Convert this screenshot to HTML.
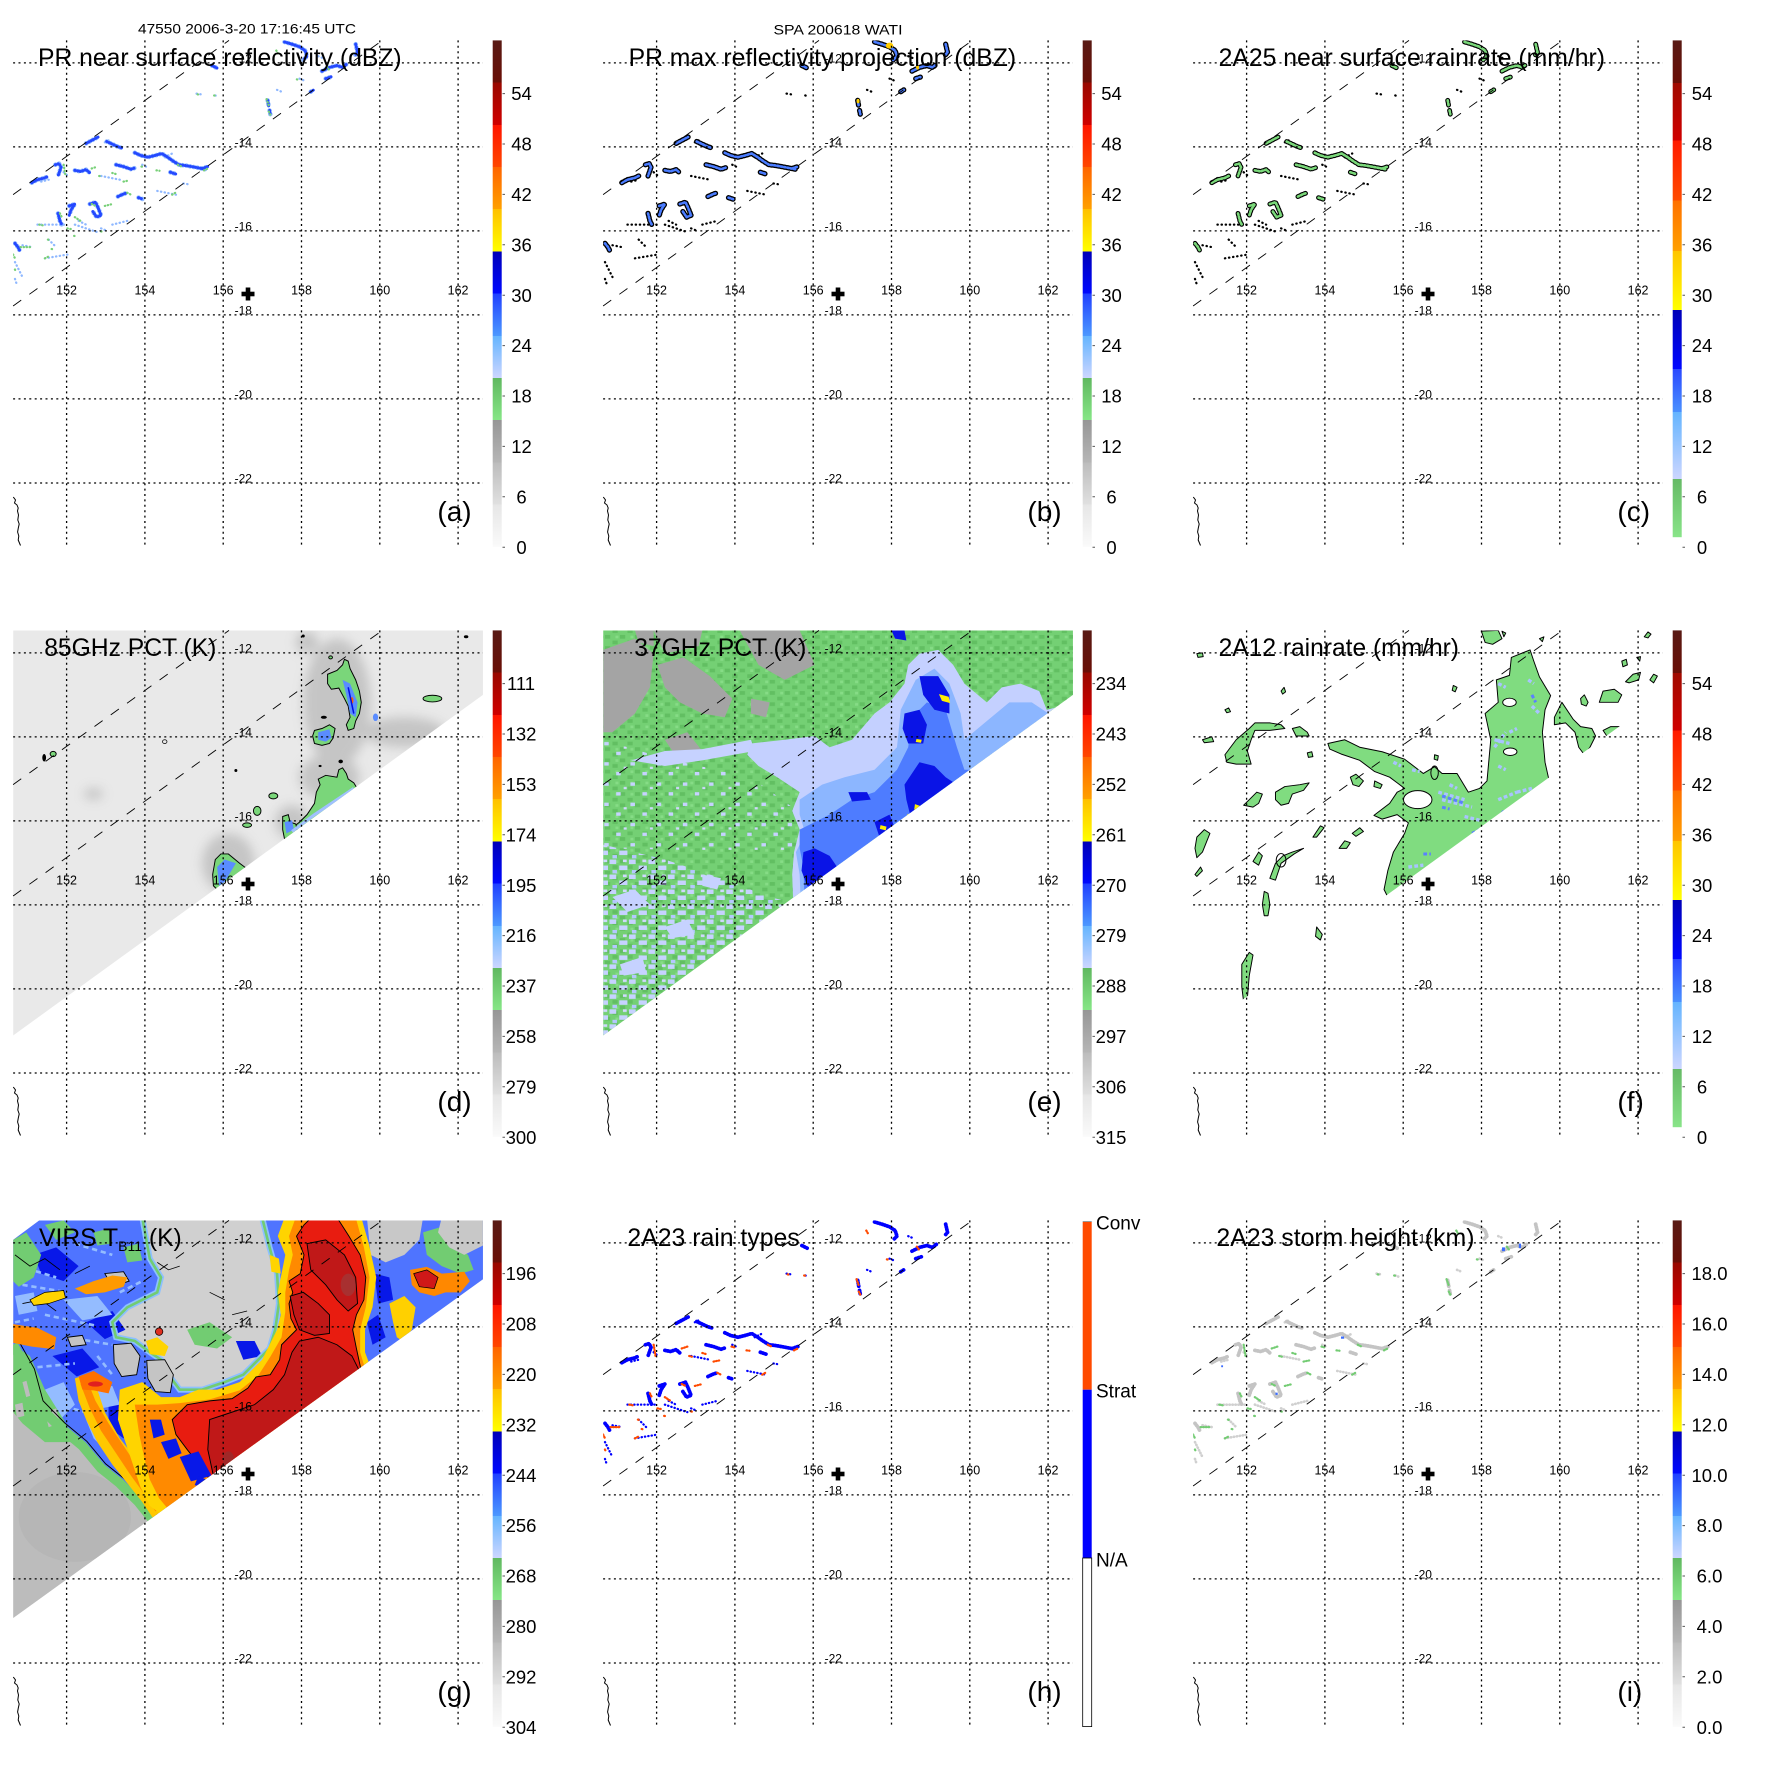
<!DOCTYPE html>
<html><head><meta charset="utf-8"><style>html,body{margin:0;padding:0;background:#fff}svg{display:block}text{font-family:"Liberation Sans",Arial,sans-serif;fill:#000}</style></head><body>
<svg width="1771" height="1771" viewBox="0 0 1771 1771" xmlns="http://www.w3.org/2000/svg" xmlns:xlink="http://www.w3.org/1999/xlink">
<rect width="1771" height="1771" fill="#fff"/>
<defs>
<clipPath id="mc"><rect x="13.1" y="40.4" width="469.9" height="505.5"/></clipPath>
<clipPath id="tmiClip"><polygon points="35,108 1290,108 1290,280 35,1190"/></clipPath>
<clipPath id="virsClip"><polygon points="35,160 105,108 1290,108 1290,265 35,1170"/></clipPath>
<filter id="bl" x="-50%" y="-50%" width="200%" height="200%"><feGaussianBlur stdDeviation="14"/></filter>
<pattern id="mot" width="40" height="30" patternUnits="userSpaceOnUse"><rect x="0" y="0" width="14" height="10" fill="#62bf62"/><rect x="20" y="15" width="14" height="10" fill="#62bf62"/><rect x="28" y="2" width="8" height="7" fill="#86dc86"/></pattern>
<pattern id="lav" width="52" height="40" patternUnits="userSpaceOnUse"><rect x="0" y="0" width="18" height="12" fill="#c6d2ff"/><rect x="26" y="16" width="22" height="12" fill="#c6d2ff"/><rect x="8" y="28" width="12" height="9" fill="#b4c8ff"/><rect x="36" y="0" width="10" height="7" fill="#d0d8ff"/></pattern>
<pattern id="lav2" width="70" height="54" patternUnits="userSpaceOnUse"><rect x="0" y="0" width="12" height="9" fill="#c6d2ff"/><rect x="38" y="28" width="12" height="9" fill="#c6d2ff"/><rect x="20" y="40" width="8" height="6" fill="#d0d8ff"/></pattern>
<linearGradient id="gStd" x1="0" y1="40.4" x2="0" y2="546.8" gradientUnits="userSpaceOnUse">
<stop offset="0" stop-color="#581a14"/><stop offset=".0833" stop-color="#6a0e06"/>
<stop offset=".0833" stop-color="#980800"/><stop offset=".1667" stop-color="#d00000"/>
<stop offset=".1667" stop-color="#ff1400"/><stop offset=".25" stop-color="#ff4600"/>
<stop offset=".25" stop-color="#ff6400"/><stop offset=".3333" stop-color="#ffa000"/>
<stop offset=".3333" stop-color="#ffc000"/><stop offset=".4167" stop-color="#ffff00"/>
<stop offset=".4167" stop-color="#0000b8"/><stop offset=".5" stop-color="#0008ff"/>
<stop offset=".5" stop-color="#2040ff"/><stop offset=".5833" stop-color="#4c98ff"/>
<stop offset=".5833" stop-color="#64b4ff"/><stop offset=".6667" stop-color="#ccd6ff"/>
<stop offset=".6667" stop-color="#60b860"/><stop offset=".75" stop-color="#86e686"/>
<stop offset=".75" stop-color="#969696"/><stop offset=".8333" stop-color="#b6b6b6"/>
<stop offset=".8333" stop-color="#bcbcbc"/><stop offset=".9167" stop-color="#e0e0e0"/>
<stop offset=".9167" stop-color="#e6e6e6"/><stop offset="1" stop-color="#fafafa"/>
</linearGradient>
<linearGradient id="gRR" x1="0" y1="40.4" x2="0" y2="537.2" gradientUnits="userSpaceOnUse">
<stop offset="0" stop-color="#581a14"/><stop offset=".086" stop-color="#6a0e06"/>
<stop offset=".086" stop-color="#a00a00"/><stop offset=".2013" stop-color="#d00000"/>
<stop offset=".2013" stop-color="#ff1a00"/><stop offset=".3219" stop-color="#ff4a00"/>
<stop offset=".3219" stop-color="#ff7000"/><stop offset=".4235" stop-color="#ffa000"/>
<stop offset=".4235" stop-color="#ffc400"/><stop offset=".5427" stop-color="#ffff00"/>
<stop offset=".5427" stop-color="#0000b8"/><stop offset=".661" stop-color="#0008ff"/>
<stop offset=".661" stop-color="#2a48ff"/><stop offset=".7476" stop-color="#4a90ff"/>
<stop offset=".7476" stop-color="#64b4ff"/><stop offset=".8833" stop-color="#ccd6ff"/>
<stop offset=".8833" stop-color="#66ba66"/><stop offset="1" stop-color="#88e488"/>
</linearGradient>
<g id="ticks"><path d="M502.5,93.6h2.5M502.5,144h2.5M502.5,194.4h2.5M502.5,244.8h2.5M502.5,295.2h2.5M502.5,345.6h2.5M502.5,396h2.5M502.5,446.4h2.5M502.5,496.8h2.5M502.5,547.2h2.5" stroke="#555" stroke-width="1"/></g>
<g id="cbStd"><rect x="492.7" y="40.4" width="9" height="506.4" fill="url(#gStd)"/><use href="#ticks"/></g>
<g id="cbRR"><rect x="492.7" y="40.4" width="9" height="496.8" fill="url(#gRR)"/><use href="#ticks"/></g>
<g id="frm">
<path d="M13.1,62.9H483M13.1,146.9H483M13.1,230.9H483M13.1,314.9H483M13.1,398.9H483M13.1,483H483M66.6,40.4V545.9M144.9,40.4V545.9M223.2,40.4V545.9M301.5,40.4V545.9M379.8,40.4V545.9M458.1,40.4V545.9" stroke="#000" stroke-width="1.3" stroke-dasharray="2 3.4" fill="none"/>
<path d="M13.1,194.6L229,40.4M13.1,306L382.3,40.4" stroke="#000" stroke-width="0.9" stroke-dasharray="10 10" fill="none"/>
<path d="M13.3,497L15.5,500L14.5,503L17,505L18.2,508L17.5,511L18.5,515L17.8,520L19.2,524L18.3,528L17.6,532L18.8,536L18.2,540L20.5,545.5" stroke="#000" stroke-width="1" fill="none"/>
<g font-size="12.5" text-anchor="middle"><text x="66.6" y="294.5">152</text><text x="144.9" y="294.5">154</text><text x="223.2" y="294.5">156</text><text x="301.5" y="294.5">158</text><text x="379.8" y="294.5">160</text><text x="458.1" y="294.5">162</text></g>
<g font-size="12"><text x="234.6" y="62.4">-12</text><text x="234.6" y="146.4">-14</text><text x="234.6" y="230.4">-16</text><text x="234.6" y="314.4">-18</text><text x="234.6" y="398.4">-20</text><text x="234.6" y="482.5">-22</text></g>
<rect x="241.5" y="291.7" width="13" height="4.6" fill="#000"/><rect x="245.7" y="287.5" width="4.6" height="13" fill="#000"/>
</g>
<path id="prCore" d="M230,383L245,375L262,366 M285,378L300,385L315,392L325,395 M360,408L375,415L395,420L415,415L432,410L448,420L462,430L478,440L495,442L512,445L528,448L548,452 M148,440L158,437L163,447L155,470 M200,455L215,458L230,453L240,462 M310,440L330,445L350,452L362,448 M85,488L100,480L120,475L130,470 M185,550L200,545L190,560L185,575 M240,545L255,540L262,555L270,575L258,580L248,565 M155,570L160,590L165,600 M315,525L330,518L340,515 M370,528L382,532 M40,650L48,660L52,668 M760,112L780,118L800,125L815,135L820,150L810,160 M860,190L880,180L900,175L915,180L925,172 M870,210L885,205 M950,118L955,140L948,148 M715,268L718,285 M720,295L722,305 M830,245L838,240 M566,175L580,182 M455,460L470,465 M540,450L555,445"/>
<path id="prSpeck" d="M100,600L180,600 M120,690L180,680 M40,700L60,740 M200,600L260,620 M270,470L320,480 M300,600L340,590 M420,510L470,520 M130,640L150,660 M800,210L812,215 M740,240L752,245 M850,150L862,155 M525,250L537,252 M575,255L583,258 M490,490L502,492 M170,460L182,470 M210,590L230,600 M270,610L282,615 M40,745L45,760 M60,655L85,660 M110,485L130,480 M280,380L290,375 M440,420L460,410 M380,440L390,445"/>
<path id="prOr" d="M170,440L175,470 M245,450L260,445 M265,470L272,472 M300,462L310,465 M330,485L345,482 M378,445L385,447 M418,455L426,456 M475,440L485,445 M545,455L555,450 M460,520L468,515 M340,515L350,520 M280,550L300,545 M245,545L255,550 M200,580L215,590 M160,570L165,580 M120,690L130,685 M138,665L144,667 M105,600L115,602 M128,640L134,642 M180,610L190,612 M55,660L80,660 M35,680L40,690 M712,265L718,282 M718,298L722,306 M873,178L880,188 M793,212L799,213 M738,135L742,142 M572,255L578,256 M528,252L533,253 M270,618L276,620 M198,630L203,631 M40,720L42,724"/>
</defs>

<!-- (a) -->
<g transform="translate(0,0)">
<g clip-path="url(#mc)"><g transform="scale(0.37439)">
<use href="#prSpeck" fill="none" stroke="#8fb8ff" stroke-width="6" stroke-dasharray="1 9" stroke-linecap="round"/>
<use href="#prCore" fill="none" stroke="#8fb8ff" stroke-width="12" stroke-dasharray="1 9" stroke-linecap="round" stroke-linejoin="round"/>
<use href="#prCore" fill="none" stroke="#2448ff" stroke-width="8" stroke-dasharray="1 6" stroke-linecap="round" stroke-linejoin="round"/>
<use href="#prOr" fill="none" stroke="#78d078" stroke-width="6" stroke-dasharray="1 7" stroke-linecap="round"/>
</g></g>
<use href="#frm"/>
<text x="247" y="33.5" font-size="14" text-anchor="middle" textLength="218" lengthAdjust="spacingAndGlyphs">47550 2006-3-20 17:16:45 UTC</text>
<text x="38" y="66" font-size="24.7" textLength="363.6" lengthAdjust="spacingAndGlyphs">PR near surface reflectivity (dBZ)</text>
<text x="437.4" y="521" font-size="28">(a)</text>
<use href="#cbStd"/>
<g font-size="18.5" text-anchor="middle"><text x="521.5" y="100.2">54</text><text x="521.5" y="150.6">48</text><text x="521.5" y="201">42</text><text x="521.5" y="251.4">36</text><text x="521.5" y="301.8">30</text><text x="521.5" y="352.2">24</text><text x="521.5" y="402.6">18</text><text x="521.5" y="453">12</text><text x="521.5" y="503.4">6</text><text x="521.5" y="553.8">0</text></g>
</g>

<!-- (b) -->
<g transform="translate(590,0)">
<g clip-path="url(#mc)"><g transform="scale(0.37439)">
<use href="#prSpeck" fill="none" stroke="#000" stroke-width="6" stroke-dasharray="1 10" stroke-linecap="round"/>
<use href="#prCore" fill="none" stroke="#000" stroke-width="14" stroke-dasharray="4 5" stroke-linecap="round" stroke-linejoin="round"/>
<use href="#prCore" fill="none" stroke="#4a7cff" stroke-width="7" stroke-dasharray="4 5" stroke-linecap="round" stroke-linejoin="round"/>
<ellipse cx="800" cy="122" rx="10" ry="8" fill="#ffcc00"/><ellipse cx="875" cy="180" rx="4" ry="6" fill="#ffcc00"/><ellipse cx="716" cy="270" rx="4" ry="6" fill="#ffd000"/>
</g></g>
<use href="#frm"/>
<text x="248" y="34.4" font-size="14" text-anchor="middle" textLength="129" lengthAdjust="spacingAndGlyphs">SPA 200618 WATI</text>
<text x="38.6" y="66" font-size="24.7" textLength="387.5" lengthAdjust="spacingAndGlyphs">PR max reflectivity projection (dBZ)</text>
<text x="437.4" y="521" font-size="28">(b)</text>
<use href="#cbStd"/>
<g font-size="18.5" text-anchor="middle"><text x="521.5" y="100.2">54</text><text x="521.5" y="150.6">48</text><text x="521.5" y="201">42</text><text x="521.5" y="251.4">36</text><text x="521.5" y="301.8">30</text><text x="521.5" y="352.2">24</text><text x="521.5" y="402.6">18</text><text x="521.5" y="453">12</text><text x="521.5" y="503.4">6</text><text x="521.5" y="553.8">0</text></g>
</g>

<!-- (c) -->
<g transform="translate(1180,0)">
<g clip-path="url(#mc)"><g transform="scale(0.37439)">
<use href="#prSpeck" fill="none" stroke="#000" stroke-width="6" stroke-dasharray="1 10" stroke-linecap="round"/>
<use href="#prCore" fill="none" stroke="#000" stroke-width="13" stroke-dasharray="4 5" stroke-linecap="round" stroke-linejoin="round"/>
<use href="#prCore" fill="none" stroke="#7ad87a" stroke-width="7" stroke-dasharray="4 5" stroke-linecap="round" stroke-linejoin="round"/>
</g></g>
<use href="#frm"/>
<text x="38.6" y="66" font-size="24.7" textLength="386.4" lengthAdjust="spacingAndGlyphs">2A25 near surface rainrate (mm/hr)</text>
<text x="437.4" y="521" font-size="28">(c)</text>
<use href="#cbRR"/>
<g font-size="18.5" text-anchor="middle"><text x="522" y="100.2">54</text><text x="522" y="150.6">48</text><text x="522" y="201">42</text><text x="522" y="251.4">36</text><text x="522" y="301.8">30</text><text x="522" y="352.2">24</text><text x="522" y="402.6">18</text><text x="522" y="453">12</text><text x="522" y="503.4">6</text><text x="522" y="553.8">0</text></g>
</g>

<!-- (d) -->
<g transform="translate(0,590)">
<g clip-path="url(#mc)"><g transform="scale(0.37439)"><g clip-path="url(#tmiClip)">
<rect x="0" y="0" width="1400" height="1300" fill="#e9e9e9"/>
<g filter="url(#bl)" fill="#a8a8a8" opacity="0.55">
<ellipse cx="610" cy="730" rx="70" ry="80"/><ellipse cx="900" cy="300" rx="90" ry="170"/><ellipse cx="880" cy="500" rx="80" ry="60"/><ellipse cx="780" cy="620" rx="45" ry="45"/><ellipse cx="820" cy="140" rx="30" ry="30"/><ellipse cx="1080" cy="380" rx="110" ry="40"/><ellipse cx="250" cy="545" rx="25" ry="15"/>
</g>
<g fill="#7ad67a" stroke="#000" stroke-width="2.6">
<polygon points="875,225 900,215 915,200 920,185 930,190 935,210 950,240 960,270 965,300 960,330 950,350 945,370 930,375 925,360 935,340 930,310 920,290 905,262 885,265 875,250"/>
<polygon points="835,390 840,375 860,370 880,360 895,370 890,395 880,410 860,415 840,410"/>
<polygon points="760,650 775,640 800,620 820,600 840,570 845,540 855,520 850,505 870,495 900,500 905,480 915,475 925,490 930,505 945,515 960,540 770,680"/>
<polygon points="755,605 770,600 775,620 790,625 795,645 780,660 760,665 755,640"/>
<polygon points="575,720 590,705 610,705 640,730 660,745 590,810 570,790 568,760"/>
<ellipse cx="1155" cy="290" rx="25" ry="9"/><ellipse cx="730" cy="550" rx="12" ry="8"/><ellipse cx="687" cy="590" rx="10" ry="12"/><ellipse cx="660" cy="628" rx="12" ry="6"/><ellipse cx="142" cy="438" rx="8" ry="7"/><ellipse cx="883" cy="180" rx="5" ry="4"/>
</g>
<g fill="#5a8cff"><polygon points="915,240 935,250 955,300 950,340 935,330 925,280"/><polygon points="850,380 880,372 885,395 870,405 850,400"/><polygon points="580,740 600,720 630,730 600,780 585,790"/><polygon points="760,620 780,615 785,640 765,650"/><ellipse cx="1003" cy="340" rx="7" ry="10"/></g>
<path d="M780,645L840,600L900,560L945,530" stroke="#a0c0ff" stroke-width="8" fill="none"/>
<ellipse cx="940" cy="295" rx="4" ry="9" fill="#ff6000"/><path d="M930,260L945,330" stroke="#0010e0" stroke-width="4"/>
<g fill="#000"><ellipse cx="865" cy="340" rx="8" ry="4"/><ellipse cx="855" cy="470" rx="4" ry="3"/><ellipse cx="910" cy="458" rx="6" ry="5"/><ellipse cx="1245" cy="125" rx="6" ry="4"/><ellipse cx="118" cy="448" rx="5" ry="10"/><ellipse cx="440" cy="405" rx="6" ry="5" fill="none" stroke="#000" stroke-width="2"/><ellipse cx="630" cy="482" rx="4" ry="4"/><ellipse cx="810" cy="123" rx="4" ry="4"/></g>
</g></g></g>
<use href="#frm"/>
<text x="44.2" y="66" font-size="24.7" textLength="172.2" lengthAdjust="spacingAndGlyphs">85GHz PCT (K)</text>
<text x="437.4" y="521" font-size="28">(d)</text>
<use href="#cbStd"/>
<g font-size="18.5" text-anchor="middle"><text x="521" y="100.2">111</text><text x="521" y="150.6">132</text><text x="521" y="201">153</text><text x="521" y="251.4">174</text><text x="521" y="301.8">195</text><text x="521" y="352.2">216</text><text x="521" y="402.6">237</text><text x="521" y="453">258</text><text x="521" y="503.4">279</text><text x="521" y="553.8">300</text></g>
</g>

<!-- (e) -->
<g transform="translate(590,590)">
<g clip-path="url(#mc)"><g transform="scale(0.37439)"><g clip-path="url(#tmiClip)">
<rect x="0" y="0" width="1400" height="1300" fill="#74d074"/>
<rect x="0" y="0" width="1400" height="1300" fill="url(#mot)"/>
<g fill="#a4a4a4">
<polygon points="35,160 120,130 170,170 160,260 120,330 60,380 35,380"/>
<polygon points="180,200 250,180 320,230 380,290 360,340 300,330 240,300 200,260"/>
<polygon points="400,108 560,108 600,200 520,240 450,200"/>
<polygon points="200,400 260,380 300,430 240,460"/>
<polygon points="170,108 300,108 290,150 200,170"/>
<polygon points="430,290 480,300 470,340 430,330"/>
<polygon points="120,108 170,108 170,150 130,140"/>
<polygon points="250,250 330,255 330,300 260,300"/>
</g>
<polygon points="35,680 200,720 350,770 480,820 560,840 560,1300 35,1300" fill="url(#lav)"/>
<polygon points="35,400 200,450 430,500 540,580 540,700 35,690" fill="url(#lav2)"/>
<g fill="#c6d2ff"><polygon points="60,820 120,800 160,840 100,860"/><polygon points="200,900 260,880 280,920 220,930"/><polygon points="80,1000 140,980 150,1020 90,1030"/><polygon points="300,760 350,770 340,800 300,790"/></g>
<polygon points="110,455 200,430 300,425 430,400 440,430 300,455 200,470" fill="#c6d2ff"/>
<polygon points="430,410 520,400 600,390 640,420 700,400 760,330 800,300 840,250 850,200 880,170 930,160 970,200 1000,250 1060,300 1100,260 1150,250 1200,270 1220,320 1300,300 1300,1300 560,1300 540,760 545,700 560,640 540,590 560,540 500,500 450,470 420,440" fill="#c4d0ff"/>
<polygon points="560,560 620,520 680,500 760,480 820,420 830,320 870,240 920,210 960,250 990,330 1000,400 1060,350 1120,300 1180,300 1300,380 1300,1300 580,1300 560,760 550,700 575,650 560,600" fill="#8cb6ff"/>
<polygon points="560,640 640,600 700,560 760,540 820,480 850,420 860,340 900,300 950,320 980,420 1000,480 1300,480 1300,1300 590,1300 570,740 560,690" fill="#4e7cff"/>
<g fill="#0a14e6">
<polygon points="570,700 600,690 640,710 660,740 640,770 600,800 580,790 565,750"/>
<polygon points="840,520 880,460 920,470 950,500 980,520 860,620 845,560"/>
<polygon points="880,230 930,230 960,280 960,330 920,320 890,280"/>
<polygon points="840,330 880,320 900,360 890,410 850,410 835,370"/>
<polygon points="760,620 800,600 820,650 780,680"/>
<polygon points="690,540 740,540 750,560 700,565"/>
<polygon points="805,108 840,108 845,135 815,130"/>
</g>
<g fill="#ffee00"><polygon points="932,278 958,285 962,302 940,296"/><polygon points="868,572 885,578 880,592 866,586"/><polygon points="848,598 866,602 862,610 846,606"/><polygon points="776,628 792,632 790,642 774,638"/><polygon points="872,398 886,400 884,408 870,406"/></g>
</g></g></g>
<use href="#frm"/>
<text x="44.2" y="66" font-size="24.7" textLength="172.2" lengthAdjust="spacingAndGlyphs">37GHz PCT (K)</text>
<text x="437.4" y="521" font-size="28">(e)</text>
<use href="#cbStd"/>
<g font-size="18.5" text-anchor="middle"><text x="521" y="100.2">234</text><text x="521" y="150.6">243</text><text x="521" y="201">252</text><text x="521" y="251.4">261</text><text x="521" y="301.8">270</text><text x="521" y="352.2">279</text><text x="521" y="402.6">288</text><text x="521" y="453">297</text><text x="521" y="503.4">306</text><text x="521" y="553.8">315</text></g>
</g>

<!-- (f) -->
<g transform="translate(1180,590)">
<g clip-path="url(#mc)"><g transform="scale(0.37439)"><g clip-path="url(#tmiClip)">
<g fill="#80dc80" stroke="#000" stroke-width="2.6" stroke-linejoin="round">
<polygon points="395,410 440,400 480,420 540,432 600,452 650,490 680,472 700,490 740,490 770,540 800,530 820,510 830,400 815,330 850,300 845,240 880,228 885,180 935,160 945,190 960,232 990,282 975,320 968,380 975,460 985,505 1000,520 560,830 545,800 555,750 570,700 600,650 610,622 580,600 540,612 518,602 560,570 580,540 600,530 560,500 520,485 480,455 430,438 400,425"/>
<polygon points="120,440 150,400 185,370 200,355 240,355 270,360 280,370 240,375 200,375 190,400 180,430 190,465 150,465 125,460"/>
<polygon points="300,370 320,365 340,380 345,390 310,390"/>
<polygon points="255,540 280,525 320,520 345,515 330,535 300,545 290,570 270,575 255,560"/>
<polygon points="170,575 185,560 205,540 220,545 210,570 195,580"/>
<polygon points="45,660 65,640 80,650 70,675 60,700 45,715 40,690"/>
<polygon points="225,805 235,810 240,840 235,870 225,870 220,840"/>
<polygon points="165,1000 185,968 195,975 185,1030 180,1090 170,1100 165,1060"/>
<polygon points="1120,300 1130,270 1160,265 1180,280 1170,300"/>
<polygon points="1000,340 1020,300 1050,345 1070,365 1100,370 1110,390 1095,420 1080,440 1065,420 1055,380 1030,355 1000,360"/>
<polygon points="1190,245 1210,225 1230,220 1225,240 1200,248"/>
<polygon points="1255,240 1265,225 1275,230 1265,248"/>
<polygon points="1130,375 1150,365 1175,365 1160,385 1140,390"/>
<polygon points="805,110 850,108 860,130 835,145 815,140"/>
<polygon points="425,690 440,670 455,675 445,690"/>
<polygon points="460,650 480,635 490,645 470,658"/>
<polygon points="355,660 375,630 385,635 365,660"/>
<polygon points="195,725 210,700 220,710 210,735"/>
<polygon points="240,770 255,730 275,710 300,700 330,690 305,705 270,730 255,775"/>
<polygon points="270,270 278,260 282,272 274,278"/>
<polygon points="60,400 85,392 90,405 65,408"/>
<polygon points="45,170 60,168 62,178 48,180"/>
<polygon points="455,500 470,492 490,510 478,525 462,520"/>
<polygon points="340,435 352,432 355,445 343,447"/>
<polygon points="1240,125 1250,112 1258,118 1250,128"/>
<polygon points="1070,290 1080,280 1090,300 1085,310 1072,305"/>
<polygon points="40,760 55,740 60,750 45,765"/>
<polygon points="120,320 130,315 135,325 125,328"/>
<polygon points="730,255 740,260 735,272 727,268"/>
<polygon points="680,440 690,443 688,455 679,452"/>
<polygon points="860,110 870,115 865,125"/>
<polygon points="960,130 972,125 968,138"/>
<polygon points="1020,480 1035,470 1040,478 1025,488"/>
<polygon points="365,900 380,920 375,935 362,925"/>
<polygon points="520,510 540,520 535,530 518,525"/>
<polygon points="1180,190 1192,185 1195,200 1183,205"/>
<polygon points="1220,180 1230,178 1228,190"/>
</g>
<g fill="#fff" stroke="#000" stroke-width="2.6"><ellipse cx="880" cy="300" rx="18" ry="11"/><ellipse cx="882" cy="432" rx="18" ry="10"/><ellipse cx="635" cy="560" rx="38" ry="24"/></g>
<g fill="none" stroke="#000" stroke-width="2.6"><ellipse cx="270" cy="722" rx="13" ry="18"/><ellipse cx="680" cy="488" rx="10" ry="18"/></g>
<path d="M690,540L760,560M700,560L780,580M840,400L880,410M850,560L900,540M760,605L800,615M610,740L650,735M930,240L945,250M840,420L870,380M880,380L900,370M570,460L590,470M620,480L640,485M720,520L740,530M900,540L940,530M850,470L870,480M940,310L960,330M850,250L870,260" stroke="#a8c4ff" stroke-width="9" stroke-dasharray="10 6" fill="none"/>
<path d="M700,550L760,570M940,280L950,300M780,650L800,640M650,705L670,705M860,590L870,600M860,600L845,612M700,580L720,585" stroke="#5a80ff" stroke-width="8" stroke-dasharray="10 6" fill="none"/>
</g></g></g>
<use href="#frm"/>
<text x="38.6" y="66" font-size="24.7" textLength="240.4" lengthAdjust="spacingAndGlyphs">2A12 rainrate (mm/hr)</text>
<text x="437.4" y="521" font-size="28">(f)</text>
<use href="#cbRR"/>
<g font-size="18.5" text-anchor="middle"><text x="522" y="100.2">54</text><text x="522" y="150.6">48</text><text x="522" y="201">42</text><text x="522" y="251.4">36</text><text x="522" y="301.8">30</text><text x="522" y="352.2">24</text><text x="522" y="402.6">18</text><text x="522" y="453">12</text><text x="522" y="503.4">6</text><text x="522" y="553.8">0</text></g>
</g>

<!-- (g) -->
<g transform="translate(0,1180)">
<g clip-path="url(#mc)"><g transform="scale(0.37439)"><g clip-path="url(#virsClip)">
<rect x="0" y="0" width="1400" height="1300" fill="#d0d0d0"/>
<polygon points="35,440 80,520 100,600 160,660 220,710 270,770 320,810 370,860 410,910 35,1200" fill="#bcbcbc"/>
<ellipse cx="200" cy="900" rx="150" ry="120" fill="#b2b2b2" opacity="0.6"/>
<polygon points="35,150 110,100 380,100 400,210 430,260 420,300 340,340 300,380 310,420 360,430 400,460 430,480 450,520 480,560 540,560 600,540 650,520 690,480 720,450 735,400 745,330 740,250 720,180 700,100 1400,100 1400,900 410,910 370,860 320,810 270,770 220,710 160,660 100,600 80,520 35,440" fill="#4f74ff"/>
<g fill="#0818e8">
<polygon points="90,200 150,180 210,230 170,270 110,250"/>
<polygon points="230,380 300,350 335,400 280,425"/>
<polygon points="140,470 220,450 265,500 205,525"/>
<polygon points="290,600 360,585 390,650 330,690 290,660"/>
<polygon points="1000,250 1040,260 1050,320 1010,330"/>
<polygon points="980,380 1010,360 1030,420 995,440"/>
<polygon points="630,430 680,430 700,470 650,480"/>
</g>
<g fill="#94bcff">
<polygon points="170,320 260,310 300,360 220,375"/>
<polygon points="40,310 90,300 100,350 50,360"/>
<polygon points="250,560 300,550 320,600 270,610"/>
<polygon points="120,560 170,540 200,600 160,640"/>
<polygon points="230,640 280,650 340,730 300,740 250,690"/>
</g>
<path d="M50,230L150,260M60,280L180,300M120,360L260,390M180,420L300,440M100,500L200,490M320,300L380,270M260,470L300,520M150,600L230,620M40,380L90,370M200,170L300,200" stroke="#94bcff" stroke-width="7" stroke-dasharray="14 10" fill="none"/>
<g fill="#72cc72">
<polygon points="35,160 70,140 110,200 90,260 50,285 35,270"/>
<polygon points="120,120 170,108 200,140 150,160"/>
<polygon points="1130,140 1180,125 1210,175 1250,200 1265,240 1230,250 1180,230 1140,200"/>
<polygon points="35,440 80,470 120,560 170,640 200,700 120,700 60,650 35,620"/>
<polygon points="500,400 560,380 620,420 580,450 520,440"/>
<polygon points="250,140 290,130 300,170 260,175"/>
<polygon points="330,180 370,170 380,215 340,220"/>
</g>
<g fill="#bcbcbc"><polygon points="60,540 90,530 100,570 70,580"/><polygon points="120,620 150,610 160,650 130,660"/><polygon points="40,600 60,595 65,630 45,635"/></g>
<g fill="#c8c8c8"><polygon points="980,100 1130,100 1120,160 1080,200 1030,220 990,200"/><polygon points="1180,100 1300,100 1300,170 1240,200 1200,180 1170,140"/></g>
<path d="M380,100L400,210L430,260L420,300L340,340L300,380L310,420L360,430L400,460L430,480L450,520L480,560L540,560L600,540L650,520L690,480L720,450L735,400L745,330L740,250L720,180L700,100" fill="none" stroke="#8cc0ff" stroke-width="16"/>
<path d="M380,100L400,210L430,260L420,300L340,340L300,380L310,420L360,430L400,460L430,480L450,520L480,560L540,560L600,540L650,520L690,480L720,450L735,400L745,330L740,250L720,180L700,100" fill="none" stroke="#72cc72" stroke-width="7"/>
<g fill="#c4c4c4" stroke="#000" stroke-width="2.4"><polygon points="303,440 350,436 374,470 365,520 325,525 305,490"/><polygon points="392,482 440,480 463,520 455,568 415,565 395,530"/><polygon points="280,250 330,245 345,270 300,285"/><polygon points="180,420 220,415 230,440 190,445"/></g>
<path d="M35,440L80,520L100,600L160,660L220,710L270,770L320,810L370,860L410,910" fill="none" stroke="#72cc72" stroke-width="26"/>
<path d="M50,430L92,505L115,590L172,648L232,698L282,758L332,798L382,848L420,895" fill="none" stroke="#000" stroke-width="2.5"/>
<path d="M40,200L80,230L120,210L160,240M60,330L110,320L150,350M200,250L240,230M420,220L450,240L480,230M560,300L600,320M620,360L660,350" fill="none" stroke="#000" stroke-width="2.2"/>
<polygon points="200,530 230,520 260,560 280,620 320,690 360,740 400,800 430,860 445,900 410,905 380,860 340,810 300,760 260,700 230,640 210,590" fill="#ffc800"/>
<polygon points="215,545 235,540 255,590 290,650 330,710 370,770 410,840 425,880 415,885 390,845 350,790 310,730 270,670 240,610" fill="#ff8a00"/>
<polygon points="320,560 380,540 430,580 480,580 530,560 580,560 640,540 670,510 700,480 720,440 740,400 750,360 742,300 752,250 762,200 742,150 760,100 965,100 985,170 1005,260 995,340 975,400 975,460 990,500 1000,560 440,900 400,870 375,820 355,760 335,700 315,640" fill="#ffd400"/>
<polygon points="360,600 420,600 480,596 560,586 640,562 690,522 722,472 752,420 762,352 762,300 772,240 782,200 772,150 790,100 950,100 972,180 987,260 977,340 962,400 962,460 980,520 450,880 425,850 400,800 385,740 372,680" fill="#ff8a00"/>
<polygon points="460,640 500,600 560,590 620,584 662,556 684,526 722,520 747,480 752,440 772,420 792,400 777,370 772,330 782,300 772,270 802,250 812,200 792,150 812,120 832,100 900,100 932,150 962,200 977,260 972,320 952,360 942,400 952,450 965,510 560,800 540,770 500,720 470,680" fill="#e81c10" stroke="#000" stroke-width="2.5"/>
<g fill="#c01818" stroke="#000" stroke-width="2.5">
<polygon points="560,640 620,620 680,600 730,560 760,520 780,460 800,430 850,420 900,440 940,470 960,510 570,790 555,720"/>
<polygon points="820,170 870,160 920,200 950,260 955,330 930,350 900,320 870,280 830,240"/>
<polygon points="775,310 810,300 850,330 880,360 880,410 840,415 800,400 785,360"/>
</g>
<ellipse cx="610" cy="745" rx="15" ry="20" fill="#a02828"/><ellipse cx="930" cy="280" rx="20" ry="30" fill="#a83030"/>
<g fill="#0818e8"><polygon points="480,740 530,725 565,790 510,805"/><polygon points="430,700 470,690 485,730 450,745"/><polygon points="400,640 430,640 440,680 410,690"/><polygon points="530,790 550,800 540,820 520,815"/></g>
<polygon points="80,320 120,300 170,295 175,315 130,330 90,335" fill="#ffd400" stroke="#000" stroke-width="2"/>
<polygon points="200,290 250,270 300,255 340,260 330,285 280,300 230,305" fill="#ff9a00"/>
<polygon points="35,385 100,395 150,420 145,452 85,445 35,435" fill="#ff8a00"/>
<polygon points="390,430 420,420 450,445 440,470 400,465" fill="#ffd400"/>
<circle cx="425" cy="405" r="10" fill="#e03020" stroke="#000" stroke-width="2"/>
<polygon points="210,525 250,510 300,540 290,570 250,562 220,560" fill="#ff7000"/>
<ellipse cx="255" cy="545" rx="20" ry="7" fill="#e02020"/>
<polygon points="1095,240 1140,232 1180,250 1240,245 1255,270 1230,300 1190,300 1160,310 1120,300 1100,280" fill="#ff8800"/>
<polygon points="1105,250 1140,240 1170,260 1160,290 1120,285" fill="#d01818" stroke="#000" stroke-width="2"/>
<polygon points="1040,330 1080,310 1110,340 1100,400 1075,430 1060,420 1050,380" fill="#ffd000"/>
<polygon points="720,200 745,210 750,250 725,245" fill="#ffd400"/>
</g></g></g>
<use href="#frm"/>
<text x="39" y="66" font-size="24.7">VIRS T<tspan font-size="14" dy="5">B11</tspan><tspan dy="-5"> (K)</tspan></text>
<text x="437.4" y="521" font-size="28">(g)</text>
<use href="#cbStd"/>
<g font-size="18.5" text-anchor="middle"><text x="521" y="100.2">196</text><text x="521" y="150.6">208</text><text x="521" y="201">220</text><text x="521" y="251.4">232</text><text x="521" y="301.8">244</text><text x="521" y="352.2">256</text><text x="521" y="402.6">268</text><text x="521" y="453">280</text><text x="521" y="503.4">292</text><text x="521" y="553.8">304</text></g>
</g>

<!-- (h) -->
<g transform="translate(590,1180)">
<g clip-path="url(#mc)"><g transform="scale(0.37439)">
<use href="#prSpeck" fill="none" stroke="#0000ff" stroke-width="6" stroke-dasharray="1 8" stroke-linecap="round"/>
<use href="#prCore" fill="none" stroke="#0000ff" stroke-width="10" stroke-dasharray="2 5" stroke-linecap="round" stroke-linejoin="round"/>
<use href="#prOr" fill="none" stroke="#ff4a00" stroke-width="6" stroke-dasharray="2 5" stroke-linecap="round"/>
</g></g>
<use href="#frm"/>
<text x="37.4" y="66" font-size="24.7" textLength="172.3" lengthAdjust="spacingAndGlyphs">2A23 rain types</text>
<text x="437.4" y="521" font-size="28">(h)</text>
<rect x="492.7" y="42" width="9" height="167.7" fill="#ff4a00"/>
<rect x="492.7" y="209.7" width="9" height="168.3" fill="#0000ff"/>
<rect x="492.7" y="378" width="9" height="168.6" fill="#fff" stroke="#000" stroke-width="0.8"/>
<line x1="492.7" x2="501.7" y1="41.5" y2="41.5" stroke="#999" stroke-width="1"/>
<g font-size="19"><text x="506" y="49.5">Conv</text><text x="506" y="217.5">Strat</text><text x="506" y="386.5">N/A</text></g>
</g>

<!-- (i) -->
<g transform="translate(1180,1180)">
<g clip-path="url(#mc)"><g transform="scale(0.37439)">
<use href="#prSpeck" fill="none" stroke="#d0d0d0" stroke-width="7" stroke-dasharray="1 7" stroke-linecap="round"/>
<use href="#prCore" fill="none" stroke="#c4c4c4" stroke-width="10" stroke-dasharray="2 5" stroke-linecap="round" stroke-linejoin="round"/>
<use href="#prOr" fill="none" stroke="#74cc74" stroke-width="6" stroke-dasharray="2 5" stroke-linecap="round"/>
<g fill="#3a6cff"><rect x="860" y="180" width="8" height="10"/><rect x="905" y="170" width="6" height="12"/><rect x="430" y="418" width="8" height="6"/><rect x="255" y="568" width="6" height="6"/><rect x="110" y="495" width="5" height="5"/></g>
</g></g>
<use href="#frm"/>
<text x="36.4" y="66" font-size="24.7" textLength="258.1" lengthAdjust="spacingAndGlyphs">2A23 storm height (km)</text>
<text x="437.4" y="521" font-size="28">(i)</text>
<use href="#cbStd"/>
<g font-size="18.5" text-anchor="middle"><text x="529.5" y="100.2">18.0</text><text x="529.5" y="150.6">16.0</text><text x="529.5" y="201">14.0</text><text x="529.5" y="251.4">12.0</text><text x="529.5" y="301.8">10.0</text><text x="529.5" y="352.2">8.0</text><text x="529.5" y="402.6">6.0</text><text x="529.5" y="453">4.0</text><text x="529.5" y="503.4">2.0</text><text x="529.5" y="553.8">0.0</text></g>
</g>
</svg>
</body></html>
